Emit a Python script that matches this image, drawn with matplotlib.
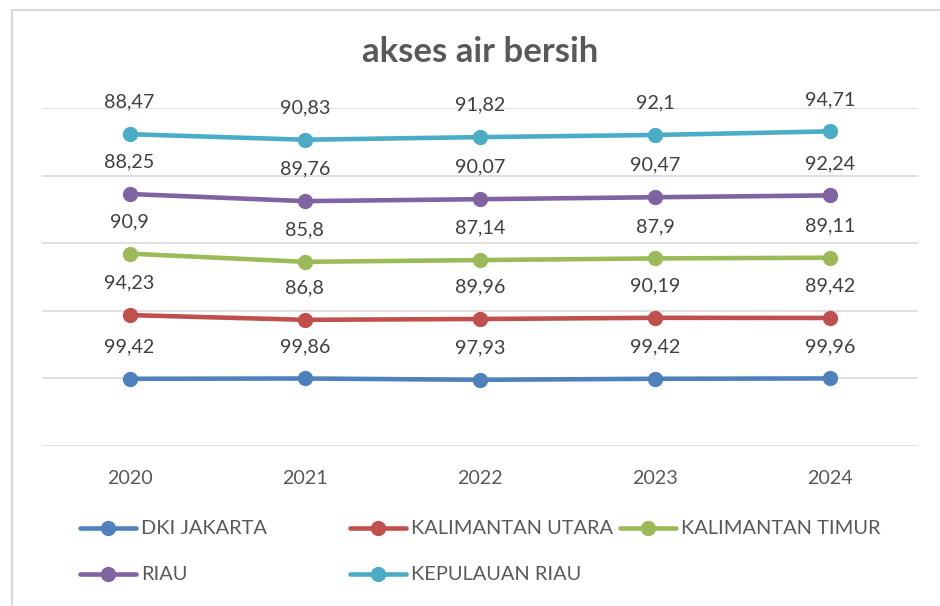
import numpy as np
import matplotlib
matplotlib.use('Agg')
import matplotlib.pyplot as plt
from matplotlib.patches import Rectangle

years = ["2020", "2021", "2022", "2023", "2024"]
provinces = ["DKI JAKARTA", "KALIMANTAN UTARA", "KALIMANTAN TIMUR", "RIAU", "KEPULAUAN RIAU"]
dki = [99.42, 99.86, 97.93, 99.42, 99.96]
kaltara = [94.23, 86.8, 89.96, 90.19, 89.42]
kaltim = [90.9, 85.8, 87.14, 87.9, 89.11]
riau = [88.25, 89.76, 90.07, 90.47, 92.24]
kepri = [88.47, 90.83, 91.82, 92.1, 94.71]
colors = ["#4F81BD", "#C0504D", "#9BBB59", "#8064A2", "#4BACC6"]

plt.rcParams['font.family'] = ['Lato', 'DejaVu Sans']

series = np.array([dki, kaltara, kaltim, riau, kepri])
stacked = np.cumsum(series, axis=0)  # Excel "stacked line" chart
x = np.arange(len(years))

fig = plt.figure(figsize=(9.4, 6.06), dpi=100)
fig.patches.append(Rectangle((12 / 940, -0.1), 1.1, 1 - 10 / 606 + 0.1,
                             transform=fig.transFigure, fill=False,
                             edgecolor="#d9d9d9", linewidth=1.5))

ax = fig.add_axes([42 / 940, 160 / 606, 876 / 940, 338 / 606])
ax.set_xlim(-0.5, len(years) - 0.5)
ax.set_ylim(0, 500)
ax.set_yticks(np.arange(0, 501, 100))
ax.yaxis.grid(True, color="#d9d9d9", linewidth=1.2)
ax.set_axisbelow(True)
for s in ax.spines.values():
    s.set_visible(False)
ax.tick_params(axis='y', left=False, labelleft=False)
ax.tick_params(axis='x', bottom=False, pad=14, labelsize=14.2, labelcolor="#595959")
ax.set_xticks(x)
ax.set_xticklabels(years)

handles = []
for i, name in enumerate(provinces):
    h, = ax.plot(x, stacked[i], color=colors[i], linewidth=3.3, marker='o',
                 markersize=10, solid_capstyle='round', label=name, zorder=3)
    handles.append(h)
    for xi, yi, v in zip(x, stacked[i], series[i]):
        ax.annotate(str(v).replace('.', ','), (xi, yi), xytext=(0, 23),
                    textcoords='offset points', ha='center', va='center',
                    fontsize=14.2, color="#404040")

fig.text(480 / 940, 1 - 52 / 606, "akses air bersih", ha='center', va='center',
         fontsize=25, fontweight='bold', color="#595959")

legend_pos = [(80, 529), (350, 529), (620, 529), (80, 575), (350, 575)]
for h, (lx, ly) in zip(handles, legend_pos):
    fig.legend([h], [h.get_label()], loc='center left',
               bbox_to_anchor=(lx / 940, 1 - ly / 606), frameon=False,
               borderpad=0, borderaxespad=0, handlelength=2.8,
               handletextpad=0.25, fontsize=14.4, labelcolor="#595959")

fig.savefig("out.png", dpi=100)
